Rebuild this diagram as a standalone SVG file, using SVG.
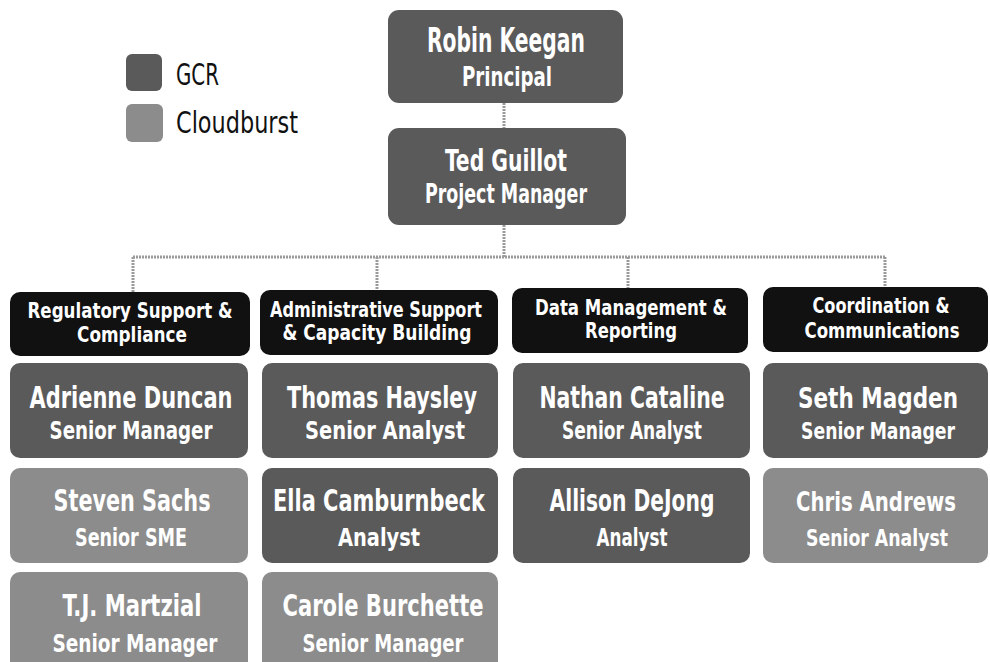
<svg xmlns="http://www.w3.org/2000/svg" width="990" height="662" viewBox="0 0 990 662">
<style>
  .gcr { fill: #5a5a5a; }
  .cb { fill: #8c8c8c; }
  .hdr { fill: #111111; }
  .t { font-family: "Liberation Sans Narrow", "DejaVu Sans Condensed", "Liberation Sans", sans-serif; font-stretch: condensed; font-weight: bold; fill: #ffffff; text-anchor: middle; }
  .n { font-size: 30px; }
  .r { font-size: 25px; }
  .n4 { font-size: 28px; }
  .r4 { font-size: 23px; }
  .h { font-size: 21px; }
  .lg { font-family: "Liberation Sans Narrow", "DejaVu Sans Condensed", "Liberation Sans", sans-serif; font-stretch: condensed; font-size: 30px; fill: #111111; }
  .conn { stroke: #9a9a9a; stroke-width: 3; fill: none; stroke-dasharray: 2 1; }
</style>
<rect width="990" height="662" fill="#ffffff"/>

<g id="legend">
  <rect class="gcr" x="126" y="54" width="36" height="37" rx="6"/>
  <text class="lg" x="176" y="85" textLength="43" lengthAdjust="spacingAndGlyphs">GCR</text>
  <rect class="cb" x="126" y="104" width="37" height="38" rx="6"/>
  <text class="lg" x="176" y="133" textLength="122" lengthAdjust="spacingAndGlyphs">Cloudburst</text>
</g>

<g id="connectors">
  <path class="conn" d="M504 103 V128"/>
  <path class="conn" d="M504 225 V257"/>
  <path class="conn" d="M133 257 H885"/>
  <path class="conn" d="M133 257 V292"/>
  <path class="conn" d="M377 257 V290"/>
  <path class="conn" d="M628 257 V288"/>
  <path class="conn" d="M885 257 V287"/>
</g>

<g id="robin-keegan">
  <rect class="gcr" x="388" y="10" width="235" height="93" rx="11"/>
  <text class="t" x="506" y="52" font-size="33" textLength="158" lengthAdjust="spacingAndGlyphs">Robin Keegan</text>
  <text class="t" x="507" y="86" font-size="27" textLength="90" lengthAdjust="spacingAndGlyphs">Principal</text>
</g>

<g id="ted-guillot">
  <rect class="gcr" x="388" y="128" width="238" height="97" rx="11"/>
  <text class="t" x="506" y="171" font-size="31" textLength="122" lengthAdjust="spacingAndGlyphs">Ted Guillot</text>
  <text class="t" x="506" y="203" font-size="26" textLength="162" lengthAdjust="spacingAndGlyphs">Project Manager</text>
</g>

<g id="hdr-regulatory">
  <rect class="hdr" x="10" y="292" width="240" height="64" rx="10"/>
  <text class="t h" x="130" y="318" textLength="205" lengthAdjust="spacingAndGlyphs">Regulatory Support &amp;</text>
  <text class="t h" x="132" y="342" textLength="110" lengthAdjust="spacingAndGlyphs">Compliance</text>
</g>
<g id="hdr-admin">
  <rect class="hdr" x="260" y="290" width="238" height="65" rx="10"/>
  <text class="t h" x="376" y="317" textLength="212" lengthAdjust="spacingAndGlyphs">Administrative Support</text>
  <text class="t h" x="377" y="340" textLength="189" lengthAdjust="spacingAndGlyphs">&amp; Capacity Building</text>
</g>
<g id="hdr-data">
  <rect class="hdr" x="512" y="288" width="236" height="65" rx="10"/>
  <text class="t h" x="631" y="315" textLength="192" lengthAdjust="spacingAndGlyphs">Data Management &amp;</text>
  <text class="t h" x="631" y="338" textLength="92" lengthAdjust="spacingAndGlyphs">Reporting</text>
</g>
<g id="hdr-coord">
  <rect class="hdr" x="763" y="287" width="225" height="65" rx="10"/>
  <text class="t h" x="881" y="313" textLength="137" lengthAdjust="spacingAndGlyphs">Coordination &amp;</text>
  <text class="t h" x="882" y="338" textLength="155" lengthAdjust="spacingAndGlyphs">Communications</text>
</g>

<g id="adrienne-duncan">
  <rect class="gcr" x="10" y="363" width="238" height="95" rx="10"/>
  <text class="t n" x="131" y="408" textLength="203" lengthAdjust="spacingAndGlyphs">Adrienne Duncan</text>
  <text class="t r" x="131" y="439" textLength="163" lengthAdjust="spacingAndGlyphs">Senior Manager</text>
</g>
<g id="steven-sachs">
  <rect class="cb" x="10" y="468" width="238" height="95" rx="10"/>
  <text class="t n" x="132" y="511" textLength="157" lengthAdjust="spacingAndGlyphs">Steven Sachs</text>
  <text class="t r" x="131" y="546" textLength="112" lengthAdjust="spacingAndGlyphs">Senior SME</text>
</g>
<g id="tj-martzial">
  <rect class="cb" x="10" y="572" width="238" height="100" rx="10"/>
  <text class="t n" x="132" y="616" textLength="139" lengthAdjust="spacingAndGlyphs">T.J. Martzial</text>
  <text class="t r" x="135" y="652" textLength="165" lengthAdjust="spacingAndGlyphs">Senior Manager</text>
</g>

<g id="thomas-haysley">
  <rect class="gcr" x="262" y="363" width="236" height="95" rx="10"/>
  <text class="t n" x="382" y="408" textLength="190" lengthAdjust="spacingAndGlyphs">Thomas Haysley</text>
  <text class="t r" x="385" y="439" textLength="160" lengthAdjust="spacingAndGlyphs">Senior Analyst</text>
</g>
<g id="ella-camburnbeck">
  <rect class="gcr" x="262" y="468" width="236" height="95" rx="10"/>
  <text class="t n" x="379" y="511" textLength="212" lengthAdjust="spacingAndGlyphs">Ella Camburnbeck</text>
  <text class="t r" x="379" y="546" textLength="82" lengthAdjust="spacingAndGlyphs">Analyst</text>
</g>
<g id="carole-burchette">
  <rect class="cb" x="262" y="572" width="236" height="100" rx="10"/>
  <text class="t n" x="383" y="616" textLength="201" lengthAdjust="spacingAndGlyphs">Carole Burchette</text>
  <text class="t r" x="383" y="652" textLength="161" lengthAdjust="spacingAndGlyphs">Senior Manager</text>
</g>

<g id="nathan-cataline">
  <rect class="gcr" x="513" y="363" width="237" height="95" rx="10"/>
  <text class="t n" x="632" y="408" textLength="185" lengthAdjust="spacingAndGlyphs">Nathan Cataline</text>
  <text class="t r" x="632" y="439" textLength="140" lengthAdjust="spacingAndGlyphs">Senior Analyst</text>
</g>
<g id="allison-dejong">
  <rect class="gcr" x="513" y="468" width="237" height="95" rx="10"/>
  <text class="t n" x="632" y="511" textLength="165" lengthAdjust="spacingAndGlyphs">Allison DeJong</text>
  <text class="t r" x="632" y="546" textLength="71" lengthAdjust="spacingAndGlyphs">Analyst</text>
</g>

<g id="seth-magden">
  <rect class="gcr" x="763" y="363" width="225" height="95" rx="10"/>
  <text class="t n4" x="878" y="408" textLength="160" lengthAdjust="spacingAndGlyphs">Seth Magden</text>
  <text class="t r4" x="878" y="439" textLength="154" lengthAdjust="spacingAndGlyphs">Senior Manager</text>
</g>
<g id="chris-andrews">
  <rect class="cb" x="763" y="468" width="225" height="95" rx="10"/>
  <text class="t" x="876" y="511" font-size="26" textLength="160" lengthAdjust="spacingAndGlyphs">Chris Andrews</text>
  <text class="t r4" x="877" y="546" textLength="142" lengthAdjust="spacingAndGlyphs">Senior Analyst</text>
</g>
</svg>
